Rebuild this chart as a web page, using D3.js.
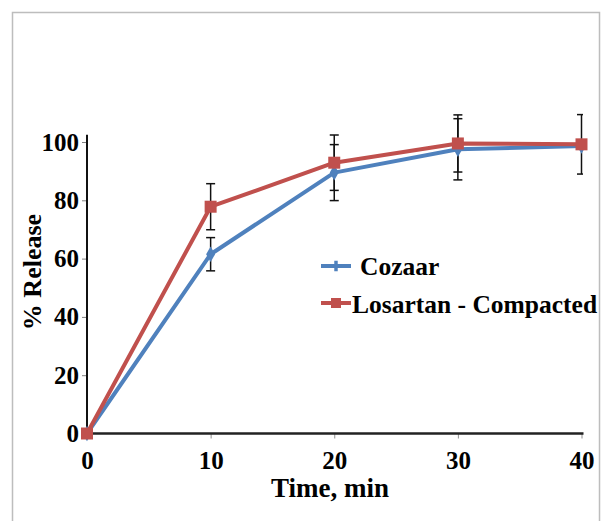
<!DOCTYPE html>
<html>
<head>
<meta charset="utf-8">
<script src="https://cdn.jsdelivr.net/npm/d3@7"></script>
<style>
  html, body { margin: 0; padding: 0; background: #fff; }
  svg { display: block; }
  text { font-family: "Liberation Serif", "Times New Roman", serif; font-weight: bold; fill: #000; }
</style>
</head>
<body>
<div id="chart"></div>
<script>
// ---- data ----
const times = [0, 10, 20, 30, 40];
const cozaar = [0, 61.5, 89.5, 97.5, 98.6];
const cozaarErr = [0, 5.7, 9.6, 10.5, 0];
const losartan = [0, 77.8, 92.9, 99.5, 99.2];
const losartanErr = [0, 7.9, 9.5, 9.8, 10.2];
const xTicks = [0, 10, 20, 30, 40];
const yTicks = [0, 20, 40, 60, 80, 100];
const seriesNames = ["Cozaar", "Losartan - Compacted"];
const colors = ["#4f81bd", "#c0504d"];
const xTitle = "Time, min";
const yTitle = "% Release";

const W = 602, H = 521;
const svg = d3.select("#chart").append("svg").attr("width", W).attr("height", H);

// outer frame
svg.append("rect").attr("x", 12.5).attr("y", 12.5).attr("width", 587).attr("height", 530)
  .attr("fill", "none").attr("stroke", "#bdbdbd").attr("stroke-width", 1.5);

const x = d3.scaleLinear().domain([0, 40]).range([87, 581.5]);
const y = d3.scaleLinear().domain([0, 100]).range([433.5, 142]);

// clip for error bars
svg.append("clipPath").attr("id", "plotclip").append("rect")
  .attr("x", 60).attr("y", 100).attr("width", x(40) + 1.5 - 60).attr("height", 360);

// y axis
const gy = svg.append("g").attr("transform", `translate(${x(0)},0)`)
  .call(d3.axisLeft(y).tickValues(yTicks).tickSize(5).tickPadding(3).tickFormat(d3.format("d")));
gy.select(".domain").remove();
gy.selectAll(".tick line").attr("stroke", "#808080").attr("stroke-width", 1);
gy.selectAll(".tick text").style("font-size", "25px").attr("font-family", null);
svg.append("line").attr("x1", x(0)).attr("x2", x(0)).attr("y1", y(0)).attr("y2", y(102.5))
  .attr("stroke", "#111").attr("stroke-width", 2);

// x axis
const gx = svg.append("g").attr("transform", `translate(0,${y(0)})`)
  .call(d3.axisBottom(x).tickValues(xTicks).tickSize(5).tickPadding(13).tickFormat(d3.format("d")));
gx.select(".domain").remove();
gx.selectAll(".tick line").attr("stroke", "#909090").attr("stroke-width", 1);
gx.selectAll(".tick text").style("font-size", "25px").attr("font-family", null);
svg.append("line").attr("x1", x(0)).attr("x2", x(40) + 2).attr("y1", y(0)).attr("y2", y(0))
  .attr("stroke", "#222").attr("stroke-width", 2.5);

// axis titles
svg.append("text").attr("x", 330).attr("y", 497).attr("text-anchor", "middle")
  .style("font-size", "27px").text(xTitle);
svg.append("text").attr("transform", `translate(41,${272}) rotate(-90)`).attr("text-anchor", "middle")
  .style("font-size", "26px").text(yTitle);

const allSeries = [
  { name: seriesNames[0], vals: cozaar, err: cozaarErr, color: colors[0], marker: "diamond" },
  { name: seriesNames[1], vals: losartan, err: losartanErr, color: colors[1], marker: "square" }
];

const line = d3.line().x((d, i) => x(times[i])).y(d => y(d));

// error bars
const eg = svg.append("g").attr("clip-path", "url(#plotclip)");
allSeries.forEach(s => {
  times.forEach((t, i) => {
    if (!s.err[i]) return;
    const cx = x(t), top = y(s.vals[i] + s.err[i]), bot = y(s.vals[i] - s.err[i]);
    eg.append("line").attr("x1", cx).attr("x2", cx).attr("y1", top).attr("y2", bot)
      .attr("stroke", "#111").attr("stroke-width", 1.5);
    [top, bot].forEach(yy => eg.append("line").attr("x1", cx - 4.5).attr("x2", cx + 4.5)
      .attr("y1", yy).attr("y2", yy).attr("stroke", "#111").attr("stroke-width", 1.5));
  });
});

// lines and markers
allSeries.forEach(s => {
  svg.append("path").datum(s.vals).attr("d", line).attr("fill", "none")
    .attr("stroke", s.color).attr("stroke-width", 4).attr("stroke-linejoin", "round");
});
allSeries.forEach(s => {
  const sym = s.marker === "square" ? d3.symbol(d3.symbolSquare, 144) : d3.symbol(d3.symbolDiamond, 70);
  svg.append("g").selectAll("path").data(s.vals).join("path")
    .attr("transform", (d, i) => `translate(${x(times[i])},${y(d)})`)
    .attr("d", sym).attr("fill", s.color);
});

// legend
const legendRows = [
  { s: allSeries[0], ly: 266, tx: 360, ty: 275 },
  { s: allSeries[1], ly: 303, tx: 352, ty: 313 }
];
legendRows.forEach(r => {
  svg.append("line").attr("x1", 321).attr("x2", 351).attr("y1", r.ly).attr("y2", r.ly)
    .attr("stroke", r.s.color).attr("stroke-width", 4);
  const sym = r.s.marker === "square" ? d3.symbol(d3.symbolSquare, 100) : d3.symbol(d3.symbolCross, 60);
  svg.append("path").attr("transform", `translate(336,${r.ly})`).attr("d", sym).attr("fill", r.s.color);
  svg.append("text").attr("x", r.tx).attr("y", r.ty).style("font-size", "25.5px").text(r.s.name);
});
</script>
</body>
</html>
